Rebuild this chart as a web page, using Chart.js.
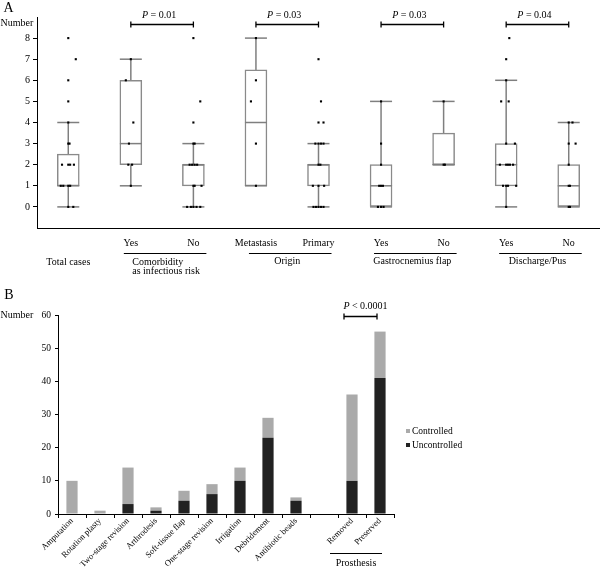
<!DOCTYPE html>
<html>
<head>
<meta charset="utf-8">
<script src="https://cdn.jsdelivr.net/npm/chart.js@4.4.0/dist/chart.umd.min.js"></script>
<style>
  body { margin: 0; background: #fff; }
  #wrap { position: relative; width: 600px; height: 569px; overflow: hidden; font-family: "Liberation Serif", "Times New Roman", serif; color: #000; }
  #wrap canvas { position: absolute; left: 0; }
  .lbl { position: absolute; transform: translate(-50%, -50%); white-space: nowrap; line-height: 1; }
  .key { position: absolute; left: 406px; font-size: 9.5px; line-height: 1; white-space: nowrap; }
  .key span { display: inline-block; width: 4px; height: 4px; margin-right: 2px; vertical-align: 1px; }
</style>
</head>
<body>
<div id="wrap">
  <canvas id="chartA" width="600" height="285" style="top:0"></canvas>
  <canvas id="chartB" width="600" height="284" style="top:285px"></canvas>
  <div class="key" style="top:427px"><span style="background:#aaa"></span>Controlled</div>
  <div class="key" style="top:441px"><span style="background:#222"></span>Uncontrolled</div>
</div>
<script>
// ---- panel A: box plots ----
const boxLabels   = ["Total cases", "Yes", "No", "Metastasis", "Primary", "Yes", "No", "Yes", "No"];
const whiskerLow  = [0, 1, 0, 1, 0, 0, 2, 0, 0];
const boxQ1       = [1, 2, 1, 1, 1, 0, 2, 1, 0];
const boxMedian   = [1, 3, 2, 4, 2, 1, 2, 2, 1];
const boxQ3       = [2.5, 6, 2, 6.5, 2, 2, 3.5, 3, 2];
const whiskerHigh = [4, 7, 3, 8, 3, 5, 5, 6, 4];
const yTicksA     = [0, 1, 2, 3, 4, 5, 6, 7, 8];

// dots per box: [horizontal offset, value]
const dotsTotal      = [[0,8],[0.12,7],[0,6],[0,5],[0,4],[0,3],[0.02,3],[-0.1,2],[0,2],[0.03,2],[0.09,2],[-0.12,1],[-0.08,1],[0,1],[0.03,1],[0,0],[0.08,0]];
const dotsComorbYes  = [[0,7],[-0.08,6],[0.04,4],[-0.03,3],[-0.04,2],[0.02,2],[0,1]];
const dotsComorbNo   = [[0,8],[0.11,5],[0,4],[0,3],[0.02,3],[-0.06,2],[-0.02,2],[0.02,2],[0.06,2],[0,1],[0.02,1],[0.13,1],[-0.1,0],[-0.04,0],[0,0],[0.05,0],[0.11,0]];
const dotsMetastasis = [[0,8],[0,6],[-0.08,5],[0,3],[0,1]];
const dotsPrimary    = [[0,7],[0.04,5],[0,4],[0.08,4],[-0.05,3],[0,3],[0.04,3],[0.08,3],[0,2],[0.03,2],[-0.09,1],[0,1],[0.09,1],[-0.08,0],[-0.04,0],[0,0],[0.04,0],[0.08,0]];
const dotsGastroYes  = [[0,5],[0,3],[0,2],[-0.03,1],[0,1],[0.03,1],[-0.05,0],[0,0],[0.04,0]];
const dotsGastroNo   = [[0,5],[0,2],[0.02,2]];
const dotsDischYes   = [[0.05,8],[0,7],[0,6],[-0.08,5],[0.04,5],[0,3],[0.14,3],[-0.1,2],[0,2],[0.03,2],[0.06,2],[0.11,2],[-0.05,1],[0,1],[0.03,1],[0.16,1],[0,0]];
const dotsDischNo    = [[0,4],[0.06,4],[0,3],[0.11,3],[0,2],[0,1],[0.02,1],[0,0],[0.02,0]];
const dotGroups = [dotsTotal, dotsComorbYes, dotsComorbNo, dotsMetastasis, dotsPrimary, dotsGastroYes, dotsGastroNo, dotsDischYes, dotsDischNo];

const groupFirst  = [1, 3, 5, 7];
const groupTitles = ["Comorbidity<br>as infectious risk", "Origin", "Gastrocnemius flap", "Discharge/Pus"];
const pValues     = ["0.01", "0.03", "0.03", "0.04"];

// ---- panel B: stacked bars ----
const procLabels   = ["Amputation", "Rotation plasty", "Two-stage revision", "Arthrodesis", "Soft-tissue flap", "One-stage revision", "Irrigation", "Debridement", "Antibiotic beads", "", "Removed", "Preserved"];
const uncontrolled = [0, 0, 3, 1, 4, 6, 10, 23, 4, null, 10, 41];
const controlled   = [10, 1, 11, 1, 3, 3, 4, 6, 1, null, 26, 14];

Chart.defaults.font.family = '"Liberation Serif", "Times New Roman", serif';
Chart.defaults.color = "#000";

const wrap = document.getElementById("wrap");
function addText(html, cx, cy, size, extra) {
    const d = document.createElement("div");
    d.className = "lbl";
    d.innerHTML = html;
    d.style.left = cx + "px";
    d.style.top = cy + "px";
    d.style.fontSize = size + "px";
    if (extra) Object.assign(d.style, extra);
    wrap.appendChild(d);
}

function seg(ctx, x1, y1, x2, y2) {
    ctx.beginPath(); ctx.moveTo(x1, y1); ctx.lineTo(x2, y2); ctx.stroke();
}

// brackets and group underlines for A
const linesA = {
    id: "linesA",
    afterDraw(chart) {
        const { ctx, chartArea, scales: { x, y } } = chart;
        ctx.save();
        ctx.strokeStyle = "#000";
        groupFirst.forEach(g => {
            const x1 = x.getPixelForValue(g), x2 = x.getPixelForValue(g + 1);
            const yb = Math.round(y.getPixelForValue(8.65)) + 0.5;
            ctx.lineWidth = 1.3;
            seg(ctx, x1, yb, x2, yb);
            seg(ctx, x1, yb - 3, x1, yb + 3);
            seg(ctx, x2, yb - 3, x2, yb + 3);
            const yl = chartArea.bottom + 25.5;
            ctx.lineWidth = 1;
            seg(ctx, x1 - 7, yl, x2 + 13, yl);
        });
        ctx.restore();
    }
};

const tickPoints = [];
boxLabels.forEach((_, i) => {
    tickPoints.push({ x: i, y: boxMedian[i] }, { x: i, y: whiskerLow[i] }, { x: i, y: whiskerHigh[i] });
});
const dotPoints = dotGroups.flatMap((pts, i) => pts.map(([dx, v]) => ({ x: i + dx, y: v })));

const chartA = new Chart(document.getElementById("chartA"), {
    type: "scatter",
    data: {
        datasets: [
            { type: "scatter", data: dotPoints, pointStyle: "rect", pointRadius: 1.5, backgroundColor: "#000", borderWidth: 0 },
            { type: "scatter", data: tickPoints, pointStyle: "line", pointRadius: 11, pointBorderColor: "#7f7f7f", pointBorderWidth: 1.5 },
            { type: "bar", data: boxLabels.map((_, i) => ({ x: i, y: [boxQ1[i], boxQ3[i]] })),
              backgroundColor: "#fff", borderColor: "#8a8a8a", borderWidth: 1.5, borderSkipped: false, barThickness: 22 },
            ...boxLabels.map((_, i) => ({
                type: "line", data: [{ x: i, y: whiskerLow[i] }, { x: i, y: whiskerHigh[i] }],
                borderColor: "#7f7f7f", borderWidth: 1.5, pointRadius: 0
            }))
        ]
    },
    options: {
        responsive: false, animation: false, events: [],
        layout: { autoPadding: false, padding: { top: 17, right: 0, left: 0, bottom: 0 } },
        plugins: { legend: { display: false }, tooltip: { enabled: false } },
        scales: {
            x: {
                type: "linear", min: -0.5, max: 8.5, offset: false,
                grid: { display: false, drawTicks: false, offset: false },
                border: { display: true, color: "#000", width: 1 },
                afterBuildTicks: ax => { ax.ticks = boxLabels.map((_, i) => ({ value: i })); },
                afterFit: ax => { ax.height = 57; },
                ticks: {
                    autoSkip: false, maxRotation: 0, padding: 6,
                    font: { size: 10, lineHeight: 1.9 },
                    callback: (v, i) => i === 0 ? ["", boxLabels[i]] : boxLabels[i]
                }
            },
            y: {
                min: -1, max: 9,
                afterBuildTicks: ax => { ax.ticks = yTicksA.map(v => ({ value: v })); },
                afterFit: ax => { ax.width = 37; },
                grid: { drawOnChartArea: false, drawTicks: true, tickLength: 4, color: "#000" },
                border: { display: true, color: "#000", width: 1 },
                ticks: { padding: 3, font: { size: 10 } }
            }
        }
    },
    plugins: [linesA]
});

// bracket and prosthesis underline for B
const linesB = {
    id: "linesB",
    afterDraw(chart) {
        const { ctx, chartArea, scales: { x, y } } = chart;
        const x1 = x.getPixelForValue(10), x2 = x.getPixelForValue(11);
        ctx.save();
        ctx.strokeStyle = "#000";
        ctx.lineWidth = 1.3;
        const yb = Math.round(y.getPixelForValue(59.7)) + 0.5;
        seg(ctx, x1 - 8, yb, x2 - 3, yb);
        seg(ctx, x1 - 8, yb - 3, x1 - 8, yb + 3);
        seg(ctx, x2 - 3, yb - 3, x2 - 3, yb + 3);
        ctx.lineWidth = 1;
        const yl = chartArea.bottom + 39.5;
        seg(ctx, x1 - 22, yl, x2 + 2, yl);
        ctx.restore();
    }
};

const chartB = new Chart(document.getElementById("chartB"), {
    type: "bar",
    data: {
        labels: procLabels,
        datasets: [
            { label: "Uncontrolled", data: uncontrolled, backgroundColor: "#222", barPercentage: 0.4, categoryPercentage: 1 },
            { label: "Controlled", data: controlled, backgroundColor: "#aaa", barPercentage: 0.4, categoryPercentage: 1 }
        ]
    },
    options: {
        responsive: false, animation: false, events: [],
        layout: { padding: { top: 30, right: 206, left: 0, bottom: 0 } },
        plugins: { legend: { display: false }, tooltip: { enabled: false } },
        scales: {
            x: {
                stacked: true,
                grid: { drawOnChartArea: false, tickLength: 4, color: "#000", offset: true },
                border: { display: true, color: "#000", width: 1 },
                afterFit: ax => { ax.height = 55; },
                ticks: { autoSkip: false, minRotation: 45, maxRotation: 45, padding: -2, font: { size: 8.6 } }
            },
            y: {
                stacked: true, min: 0, max: 60,
                afterFit: ax => { ax.width = 58; },
                grid: { drawOnChartArea: false, tickLength: 3, color: "#000" },
                border: { display: true, color: "#000", width: 1 },
                ticks: { stepSize: 10, padding: 4, font: { size: 9.5 } }
            }
        }
    },
    plugins: [linesB]
});

// text annotations placed from the charts' own scales
const xa = chartA.scales.x;
addText("A", 8.5, 8, 14);
addText("Number", 17, 22.5, 10);
groupFirst.forEach((g, k) => {
    const mid = (xa.getPixelForValue(g) + xa.getPixelForValue(g + 1)) / 2;
    addText("<i>P</i> = " + pValues[k], mid - 3, 15, 10);
    const twoLines = groupTitles[k].includes("<br>");
    addText(groupTitles[k], mid + (twoLines ? 4 : 0), twoLines ? 265.5 : 261, 10,
            twoLines ? { lineHeight: "9px", textAlign: "left" } : null);
});

const xb = chartB.scales.x;
const bRem = xb.getPixelForValue(10), bPres = xb.getPixelForValue(11);
addText("B", 9, 294.5, 14);
addText("Number", 17, 315, 10);
addText("<i>P</i> &lt; 0.0001", (bRem + bPres) / 2 - 0.5, 306, 10);
addText("Prosthesis", (bRem + bPres) / 2 - 10, 563, 10);
</script>
</body>
</html>
